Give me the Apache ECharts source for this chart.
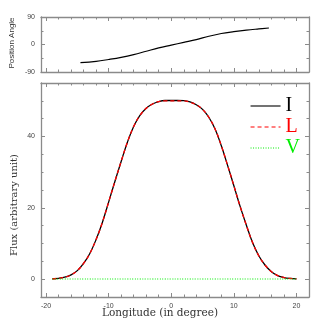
<!DOCTYPE html>
<html><head><meta charset="utf-8">
<script src="https://cdn.jsdelivr.net/npm/echarts@6/dist/echarts.min.js"></script>
<style>html,body{margin:0;padding:0;background:#fff}#c{width:327px;height:327px}</style>
</head><body><div id="c"></div>
<script>
// ---- data ----
const longitude = [-19,-18,-17,-16,-15,-14,-13,-12,-11,-10,-9,-8,-7,-6,-5,-4,-3,-2,-1,0,1,2,3,4,5,6,7,8,9,10,11,12,13,14,15,16,17,18,19,20];
const fluxI = [0.1,0.25,0.55,1.2,2.4,4.4,7.2,11.1,15.9,21.6,27.4,33.0,38.4,42.8,45.9,47.9,49.1,49.8,50.1,50.1,50.1,50.05,49.7,48.9,47.6,45.4,42.1,37.4,31.9,26.2,20.4,15.1,10.2,6.5,3.9,2.1,1.0,0.45,0.2,0.1];
const fluxL = [0.1,0.25,0.55,1.2,2.4,4.4,7.2,11.1,15.9,21.6,27.4,33.0,38.4,42.8,45.9,47.9,49.1,49.8,50.0,50.0,50.0,50.0,49.6,48.9,47.6,45.4,42.1,37.4,31.9,26.2,20.4,15.1,10.2,6.5,3.9,2.1,1.0,0.45,0.2,0.1];
const fluxV = [0.05,0.05,0.05,0.05,0.05,0.05,0.05,0.05,0.05,0.05,0.05,0.05,0.05,0.05,0.05,0.05,0.05,0.05,0.05,0.05,0.05,0.05,0.05,0.05,0.05,0.05,0.05,0.05,0.05,0.05,0.05,0.05,0.05,0.05,0.05,0.05,0.05,0.05,0.05,0.05];
const paLongitude = [-14.5,-12,-10,-8,-6,-4,-2,0,2,4,6,8,10,12,14,15.6];
const positionAngle = [-59,-55,-49,-42,-33,-22,-11,-2,7,16,27,36,42,47,51,54];
const xMajorTicks = [-20,-10,0,10,20];
const xMinorTicks = [-18,-16,-14,-12,-8,-6,-4,-2,2,4,6,8,12,14,16,18];
const paMajorTicks = [-90,0,90];
const paMinorTicks = [-45,45];
const fluxMajorTicks = [0,20,40];
const fluxMinorTicks = [5,10,15,25,30,35,45,50];

// ---- styling/helpers ----
const frame = '#8a8a8a';
const labelStyle = {fontFamily:'Liberation Sans', fontSize:7, color:'#444'};
function axes(grid, positions, min, max, major, minor, labelPos){
  const out = [];
  positions.forEach(pos => {
    [[major,4],[minor,2.5]].forEach(([vals,len],k) => {
      const showLab = (k===0 && pos===labelPos);
      out.push({
        type:'value', gridIndex:grid, position:pos, min:min, max:max,
        axisLine:{show:k===0, onZero:false, lineStyle:{color:frame, width:1.3}},
        axisTick:{show:true, inside:true, length:len, customValues:vals, lineStyle:{color:frame, width:1}},
        axisLabel:Object.assign({show:showLab, customValues:major, margin:6}, labelStyle),
        splitLine:{show:false}
      });
    });
  });
  return out;
}
const xAxes = [].concat(
  axes(0, ['bottom','top'], -20.8, 22, xMajorTicks, xMinorTicks, null),
  axes(1, ['bottom','top'], -20.8, 22, xMajorTicks, xMinorTicks, 'bottom')
);
const yAxes = [].concat(
  axes(0, ['left','right'], -90, 90, paMajorTicks, paMinorTicks, 'left'),
  axes(1, ['left','right'], -5, 55, fluxMajorTicks, fluxMinorTicks, 'left')
);
const pairs = (xs, ys) => xs.map((x,i)=>[x, ys[i]]);

const chart = echarts.init(document.getElementById('c'), null, {renderer:'canvas'});
chart.setOption({
  animation:false,
  backgroundColor:'#fff',
  grid:[
    {left:41, right:18, top:17, height:55},
    {left:41, right:18, top:83, height:214}
  ],
  xAxis:xAxes,
  yAxis:yAxes,
  legend:{
    orient:'vertical', left:250, top:96, padding:0, itemWidth:30, itemHeight:10, itemGap:1,
    itemStyle:{opacity:0},
    lineStyle:{width:1.1},
    textStyle:{fontFamily:'Liberation Serif', fontSize:20},
    data:[
      {name:'I', textStyle:{color:'#000'}},
      {name:'L', textStyle:{color:'#ff0000'}},
      {name:'V', textStyle:{color:'#00ee00'}}
    ]
  },
  graphic:[
    {type:'text', x:12, y:43, rotation:Math.PI/2, style:{text:'Position Angle', fontFamily:'Liberation Sans', fontSize:8, fill:'#333', align:'center', verticalAlign:'middle'}},
    {type:'text', x:14, y:205, rotation:Math.PI/2, style:{text:'Flux (arbitrary unit)', fontFamily:'DejaVu Serif', fontSize:10, fill:'#333', align:'center', verticalAlign:'middle'}},
    {type:'text', x:160, y:313, style:{text:'Longitude (in degree)', fontFamily:'DejaVu Serif', fontSize:10.5, fill:'#333', align:'center', verticalAlign:'middle'}}
  ],
  series:[
    {type:'line', xAxisIndex:0, yAxisIndex:0, data:pairs(paLongitude, positionAngle), smooth:0.4, symbol:'none', lineStyle:{color:'#000', width:1.2}, silent:true},
    {name:'I', type:'line', xAxisIndex:4, yAxisIndex:4, data:pairs(longitude, fluxI), smooth:0.4, symbol:'none', itemStyle:{color:'#000'}, lineStyle:{color:'#000', width:1.3}},
    {name:'L', type:'line', xAxisIndex:4, yAxisIndex:4, data:pairs(longitude, fluxL), smooth:0.4, symbol:'none', itemStyle:{color:'#ff0000'}, lineStyle:{color:'#ff0000', width:1.3, type:[4,3]}},
    {name:'V', type:'line', xAxisIndex:4, yAxisIndex:4, data:pairs(longitude, fluxV), smooth:0.4, symbol:'none', itemStyle:{color:'#00ee00'}, lineStyle:{color:'#00ee00', width:1.2, type:[1,1.5]}}
  ]
});
</script></body></html>
